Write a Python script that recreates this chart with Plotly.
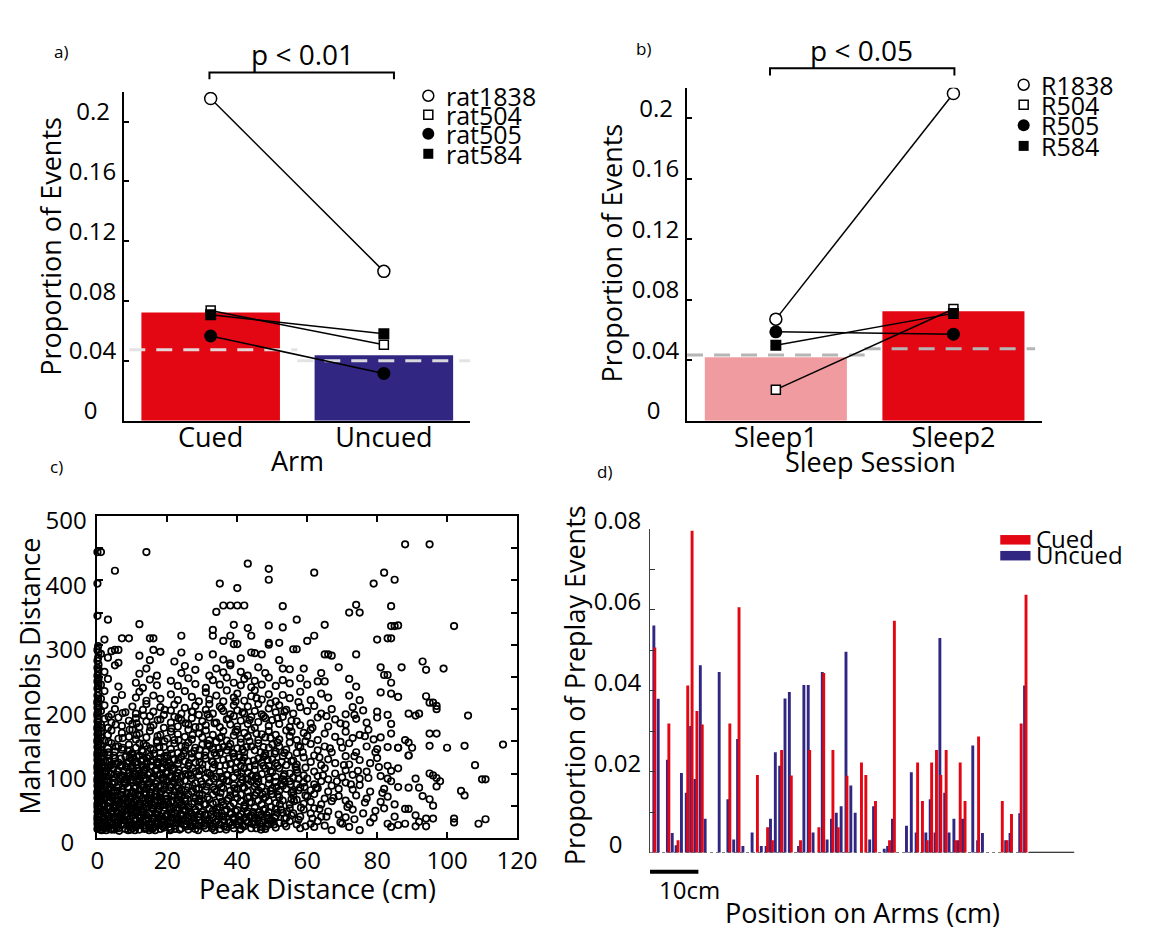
import plotly.graph_objects as go

W, H = 1152, 948
FONT = "Open Sans"
RED = "#E30613"
NAVY = "#312783"
PINK = "#F09BA0"
NB = "\u00a0"


def fx(px):
    return px / W


def fy(py):
    return 1 - py / H


# ---------------- a) proportion of events per arm ----------------
arm_labels = ["Cued", "Uncued"]
arm_mean = [0.0724, 0.0438]
arm_chance = [0.0476, 0.0402]
rat1838_arm = [0.2154, 0.0999]
rat504_arm = [0.0737, 0.0508]
rat505_arm = [0.0567, 0.0317]
rat584_arm = [0.0709, 0.0582]

# ---------------- b) proportion of events per sleep session ----------------
sleep_labels = ["Sleep1", "Sleep2"]
sleep_mean = [0.0420, 0.0724]
sleep_chance = [0.0435, 0.0477]
r1838_sleep = [0.0672, 0.2163]
r504_sleep = [0.0206, 0.0739]
r505_sleep = [0.0588, 0.0573]
r584_sleep = [0.0500, 0.0710]

prop_ticks = [0, 0.04, 0.08, 0.12, 0.16, 0.2]
prop_ticktext = ["0" + NB * 3, "0.04", "0.08", "0.12", "0.16", "0.2" + NB]

# ---------------- c) peak distance vs Mahalanobis distance ----------------
scatter_core = [
    (0,14),(0,22),(0,28),(1,18),(1,25),(2,15),(2,21),(3,27),(3,17),(4,23),(4,13),(5,19),(5,28),(6,15),(6,24),(7,20),(8,14),(8,27),(9,18),(9,24),
    (10,15),(10,22),(11,28),(11,17),(12,13),(12,24),(13,19),(14,26),(14,15),(15,21),(16,17),(16,28),(17,23),(18,14),(18,20),(19,26),(19,16),(20,22),
    (21,14),(21,27),(22,19),(23,24),(24,15),(24,29),(25,20),(26,13),(26,25),(27,18),(28,23),(28,14),(29,27),(29,19),
    (31,22),(31,15),(32,28),(33,18),(34,25),(35,14),(35,21),(36,28),(37,17),(38,24),(39,15),(39,28),
    (40,20),(41,14),(41,26),(42,18),(43,24),(44,15),(45,21),(46,28),(47,17),(47,24),(48,14),(49,21),
    (50,27),(51,16),(52,23),(54,18),(55,26),(57,21),(58,15),(61,22),(62,17),(63,26),(65,19),(67,12),
    (70,22),(72,17),(75,12),(78,24),(83,22),(84,17),(86,20),(88,22),
    (0,33),(0,41),(0,48),(1,37),(1,45),(2,31),(2,43),(3,36),(3,49),(4,40),(5,33),(5,46),(6,38),(7,31),(7,44),(8,36),(9,42),(9,49),
    (10,34),(10,45),(11,39),(12,32),(12,47),(13,41),(14,35),(14,48),(15,38),(16,31),(16,44),(17,37),(18,49),(18,33),(19,42),(20,36),
    (21,44),(21,32),(22,39),(23,47),(24,34),(25,42),(26,31),(26,48),(27,37),(28,44),(29,33),(29,49),(30,40),
    (31,35),(32,46),(33,31),(33,42),(34,38),(35,48),(36,33),(37,44),(38,37),(38,49),(39,32),(40,43),
    (41,37),(42,46),(42,31),(43,41),(44,35),(45,47),(45,32),(46,40),(47,36),(48,45),(49,31),(49,40),
    (51,34),(51,45),(53,39),(54,31),(55,46),(56,38),(58,33),(59,44),(61,38),(62,46),(64,33),(66,41),(69,36),
    (71,32),(73,44),(76,38),(79,31),(82,46),(85,33),
    (0,53),(0,62),(0,69),(1,57),(1,66),(2,51),(2,60),(3,55),(3,68),(4,62),(5,52),(5,65),(6,58),(7,53),(7,67),(8,61),(9,56),
    (10,63),(10,52),(11,58),(12,66),(12,54),(13,61),(14,55),(14,68),(15,59),(16,51),(17,64),(18,57),(18,69),(19,52),(20,61),
    (21,55),(22,66),(23,59),(24,52),(24,64),(25,57),(26,68),(27,53),(28,61),(29,56),(30,67),
    (31,52),(32,60),(33,67),(34,55),(35,63),(36,51),(37,58),(38,66),(39,54),(40,62),(33,53),
    (41,57),(41,67),(42,51),(43,62),(44,55),(45,66),(46,58),(47,52),(48,63),(49,57),(50,68),
    (51,54),(52,63),(53,58),(55,52),(56,66),(57,59),(59,53),(60,64),(61,56),(62,68),(64,52),(65,61),(67,57),(69,65),
    (71,58),(72,52),(74,66),(77,61),(81,56),(83,64),(85,52),
    (0,72),(0,81),(0,88),(1,76),(1,85),(2,71),(2,80),(3,74),(3,88),(4,78),(5,72),(5,86),(6,81),(7,75),(8,84),(9,78),
    (10,72),(10,86),(11,79),(12,74),(12,89),(13,82),(14,76),(15,85),(15,71),(16,79),(17,88),(17,73),(18,81),(19,75),(20,87),
    (21,78),(22,72),(22,86),(23,81),(24,75),(25,89),(26,79),(27,72),(28,85),(29,77),(30,83),
    (31,74),(32,86),(33,79),(34,72),(35,84),(36,77),(37,89),(38,73),(39,82),(40,76),
    (41,85),(42,78),(43,72),(44,88),(45,80),(46,74),(46,87),(47,79),(48,72),(49,84),(50,77),
    (51,87),(52,73),(53,81),(54,76),(55,88),(56,72),(57,83),(58,78),(59,86),
    (61,74),(62,83),(63,77),(64,88),(66,72),(67,81),(69,76),(71,86),(73,75),(75,82),(78,72),(82,76),(84,88),(86,79),
    (0,92),(0,101),(0,108),(1,96),(1,105),(2,91),(2,100),(3,95),(3,109),(4,99),(5,93),(6,104),(7,97),(8,91),(9,102),
    (10,95),(10,107),(11,99),(12,92),(12,104),(13,97),(14,109),(14,91),(15,101),(16,95),(17,106),(18,98),(19,92),(20,103),
    (21,96),(22,108),(23,91),(23,101),(24,95),(25,105),(26,98),(27,92),(28,103),(29,97),
    (30,107),(31,93),(32,100),(33,108),(34,95),(35,102),(36,91),(37,98),(38,106),(39,94),
    (40,101),(41,95),(42,108),(43,91),(43,102),(44,96),(45,106),(46,92),(47,99),(48,108),(49,94),
    (50,102),(51,95),(52,108),(53,91),(55,100),(56,94),(57,106),(59,97),
    (60,92),(62,103),(63,96),(65,108),(66,91),(68,100),(70,94),(71,105),(73,98),(75,92),(77,103),(81,96),(83,92),(84,104),
    (0,112),(0,121),(0,128),(1,116),(1,125),(2,111),(3,119),(3,129),(4,114),(5,123),(6,117),(7,112),(8,126),(9,119),
    (10,113),(10,124),(11,118),(12,128),(13,112),(13,122),(14,116),(15,127),(16,120),(17,113),(18,124),(19,117),(20,128),
    (21,112),(22,121),(23,115),(24,126),(25,119),(26,112),(27,124),(28,117),(29,128),
    (30,114),(31,123),(33,118),(34,128),(35,112),(36,121),(38,115),(39,126),
    (40,118),(41,112),(42,125),(43,119),(45,113),(46,123),(47,117),(48,128),(49,112),
    (50,122),(51,116),(53,127),(54,113),(56,120),(57,114),(59,125),
    (61,118),(62,128),(64,113),(66,122),(68,116),(71,127),(72,114),(75,121),(78,116),(80,124),(83,112),(86,108),
]

scatter_core_fill = [
    (0.5,19),(1.5,30),(2.5,12),(3.5,22),(4.5,31),(5.5,16),(6.5,29),(7.5,22),(8.5,33),(9.5,13),(10.5,27),(11.5,20),
    (12.5,34),(13.5,14),(14.5,31),(15.5,25),(16.5,12),(17.5,30),(18.5,24),(19.5,33),(20.5,17),(21.5,31),(22.5,23),(23.5,13),(24.5,35),
    (0.5,44),(1.5,52),(2.5,38),(3.5,58),(4.5,47),(5.5,40),(6.5,55),(7.5,49),(8.5,57),(9.5,45),(10.5,55),(11.5,48),
    (12.5,40),(13.5,52),(14.5,59),(15.5,46),(16.5,56),(17.5,44),(18.5,51),(19.5,60),(20.5,48),(21.5,58),(22.5,43),(23.5,54),
    (0.5,64),(1.5,73),(2.5,82),(3.5,65),(4.5,71),(5.5,79),(6.5,66),(7.5,86),(8.5,70),(9.5,90),(10.5,77),(11.5,68),
    (12.5,83),(13.5,71),(14.5,62),(15.5,91),(16.5,68),(17.5,80),(18.5,93),(19.5,66),(20.5,74),(21.5,88),(22.5,96),(23.5,69),
    (0.5,97),(1.5,111),(2.5,104),(3.5,118),(4.5,107),(5.5,98),(6.5,112),(7.5,104),(8.5,116),(9.5,109),(10.5,100),
    (11.5,114),(12.5,119),(13.5,106),(14.5,98),(15.5,112),(16.5,105),(17.5,116),(18.5,110),(19.5,101),(20.5,116),(21.5,106),
    (25.5,18),(27.5,30),(30.5,19),(32.5,36),(34.5,28),(36.5,41),(38.5,20),(40.5,33),(42.5,27),(44.5,40),(46.5,22),
    (48.5,35),(50.5,21),(52.5,44),(53.5,30),(43.5,55),(37.5,61),(30.5,52),(27.5,63),(45.5,70),(41.5,90),(35.5,79),
    (32.5,97),(47.5,112),(52.5,84),(55.5,70),
]

scatter_axis_column = [
    (0.3,17),(0.3,26),(0.2,37),(0.3,46),(0.2,57),(0.3,66),(0.2,77),(0.3,85),(0.2,96),(0.3,104),(0.2,116),(0.3,124),
    (0.2,136),(0.3,144),(0.2,156),(0.3,164),(0.2,176),(0.3,185),(0.2,196),(0.3,205),(0.2,216),(0.3,226),(0.2,237),
    (0.3,248),(0.2,258),(0.3,269),(0.2,280),(0.3,288),(0.2,298),(0.3,240),(0.3,262),
]

scatter_dense_extra = [
    (1.2,12),(3.2,33),(5.2,24),(7.2,39),(9.2,30),(11.2,43),(13.2,36),(15.2,16),(17.2,41),(19.2,21),(21.2,38),(23.2,28),(25.2,44),(27.2,24),(29.2,37),
    (1.2,61),(3.2,77),(5.2,58),(7.2,71),(9.2,64),(11.2,87),(13.2,78),(15.2,66),(17.2,57),(19.2,82),(21.2,66),(23.2,77),(25.2,62),(27.2,81),(29.2,66),
    (1.2,92),(3.2,102),(5.2,115),(7.2,93),(9.2,124),(11.2,108),(13.2,92),(15.2,119),(17.2,97),(19.2,124),(21.2,93),(23.2,121),(25.2,99),(27.2,108),(29.2,117),
    (1.2,132),(3.2,149),(5.2,142),(7.2,155),(9.2,136),(11.2,160),(13.2,146),(15.2,139),(17.2,158),(19.2,150),(21.2,131),(23.2,152),(25.2,143),(27.2,160),(29.2,137),
    (1.2,171),(3.2,188),(5.2,176),(7.2,194),(9.2,168),(11.2,178),(13.2,190),(15.2,172),(17.2,183),(19.2,199),(21.2,170),(23.2,186),(25.2,178),(27.2,196),(29.2,172),
    (31.5,27),(33.5,12),(35.5,34),(37.5,24),(39.5,41),(41.5,19),(43.5,33),(45.5,15),(47.5,43),(49.5,27),(51.5,39),(53.5,22),(55.5,35),(57.5,28),(59.5,18),
    (31.5,63),(33.5,75),(35.5,56),(37.5,88),(39.5,69),(41.5,78),(43.5,64),(45.5,84),(47.5,61),(49.5,73),(51.5,67),(53.5,88),(55.5,60),(57.5,74),(59.5,66),
    (31.5,101),(33.5,114),(35.5,95),(37.5,123),(39.5,107),(41.5,120),(43.5,110),(45.5,96),(47.5,126),(49.5,104),(51.5,112),(53.5,99),(55.5,119),(57.5,92),(59.5,109),
    (31.5,146),(33.5,132),(35.5,157),(37.5,142),(39.5,165),(41.5,137),(43.5,150),(45.5,162),(47.5,141),(49.5,155),(51.5,148),(53.5,132),(55.5,165),(57.5,143),(59.5,150),
    (31.5,192),(33.5,178),(35.5,201),(37.5,185),(39.5,212),(41.5,195),(43.5,183),(45.5,217),(47.5,189),(49.5,209),(51.5,186),(53.5,196),(55.5,182),(57.5,211),
    (61.5,30),(63.5,45),(65.5,33),(67.5,62),(69.5,24),(71.5,48),(73.5,29),(76.5,55),(79.5,42),(81.5,70),(62.5,78),(64.5,97),
    (68.5,88),(70.5,113),(72.5,83),(74.5,104),(77.5,93),(80.5,110),(63.5,125),(66.5,139),(69.5,149),(73.5,127),(76.5,158),
    (79.5,133),(61.5,171),(65.5,189),(69.5,178),(73.5,191),(77.5,168),
    (0.8,13),(2.8,19),(4.8,13),(6.8,21),(8.8,12),(10.8,19),(12.8,27),(14.8,12),(16.8,22),(18.8,30),(20.8,12),(22.8,30),
    (24.8,21),(26.8,33),(28.8,12),(30.8,29),(32.8,15),(34.8,33),(36.8,13),(38.8,31),(40.8,13),(42.8,38),(44.8,26),(46.8,13),(48.8,29),
]

scatter_dense_more = [
    (0.7,16),(2.2,26),(3.7,14),(5.7,33),(6.2,11),(7.7,27),(9.7,19),(1.7,40),(3.7,46),(5.2,51),(6.7,36),(8.2,45),(9.7,56),
    (0.7,58),(2.2,68),(4.2,64),(5.7,73),(7.2,60),(8.7,78),(9.7,69),(1.2,82),(2.7,89),(4.2,84),(6.2,93),(7.7,88),(9.2,96),
    (0.7,106),(2.2,118),(3.7,112),(5.7,103),(6.7,123),(8.2,110),(9.7,130),(1.7,127),(3.2,133),(4.7,128),(7.2,140),(8.7,135),
    (10.7,12),(12.2,21),(13.7,29),(15.7,14),(17.2,26),(18.7,18),(19.7,35),(10.2,40),(11.7,51),(13.2,45),(14.7,38),(16.2,50),
    (17.7,63),(19.2,47),(10.7,67),(12.2,74),(13.7,58),(15.2,79),(16.7,84),(18.2,72),(19.7,90),(10.2,90),(11.7,97),(13.2,104),
    (15.7,93),(17.2,118),(18.7,107),(19.7,113),(11.2,126),(12.7,136),(14.2,124),(16.2,131),(17.7,141),(19.2,127),
    (20.7,25),(22.2,14),(23.7,36),(25.2,27),(26.7,18),(28.2,40),(29.7,24),(20.2,55),(21.7,46),(23.2,65),(24.7,50),(26.2,41),
    (27.7,56),(29.2,61),(20.7,81),(22.2,92),(23.7,86),(25.2,74),(26.7,97),(28.2,76),(29.7,88),(20.2,110),(21.7,122),
    (23.2,106),(24.7,131),(26.2,116),(27.7,135),(29.2,104),
    (30.7,36),(32.2,22),(34.2,44),(36.2,18),(38.2,39),(40.2,26),(42.2,49),(44.2,22),(46.2,35),(48.2,18),(49.7,48),
    (31.2,80),(33.2,92),(35.2,70),(37.2,97),(39.2,77),(41.2,101),(43.2,83),(45.2,93),(47.2,68),(49.2,91),(30.7,128),
    (32.7,119),(34.7,139),(36.7,113),(38.7,132),(40.7,125),(42.7,141),(44.7,120),(46.7,133),(48.7,121),
    (50.7,31),(52.2,52),(54.2,41),(56.2,57),(58.2,47),(51.2,79),(53.2,96),(55.2,83),(57.2,101),(59.2,79),(50.7,131),
    (52.7,118),(54.7,128),(56.7,110),(58.7,133),
]

scatter_mid = [
    (0,132),(0,141),(0,149),(1,136),(1,145),(2,131),(3,139),(4,147),(5,134),(6,142),(7,137),(9,145),
    (10,131),(11,140),(12,147),(13,134),(14,143),(16,137),(17,148),(18,132),(19,141),
    (21,138),(22,147),(23,132),(24,142),(25,136),(26,148),(27,131),(28,140),(30,145),
    (31,134),(32,143),(33,138),(34,149),(35,132),(36,141),(37,136),(38,146),(39,131),
    (40,139),(41,148),(42,133),(44,142),(45,136),(46,147),(48,131),(49,140),
    (50,145),(51,134),(52,142),(54,137),(55,148),(57,132),(58,141),(61,146),(63,136),(65,142),(67,133),
    (70,140),(72,147),(74,133),(77,142),(80,138),(83,141),(86,140),(89,128),
    (0,152),(0,161),(0,169),(1,156),(1,165),(2,151),(3,160),(4,167),(6,154),(7,163),(9,157),
    (10,168),(11,153),(12,162),(14,156),(15,166),(17,151),(18,160),(20,154),
    (21,165),(22,152),(23,161),(25,157),(26,168),(27,153),(29,162),(30,156),
    (31,167),(32,152),(33,160),(35,155),(36,166),(37,151),(39,159),(40,168),
    (41,154),(42,163),(43,157),(44,168),(46,152),(47,161),(48,156),(49,166),
    (51,160),(52,153),(54,167),(55,158),(57,152),(59,163),(60,158),(61,168),(63,152),(65,162),(68,157),
    (71,165),(73,155),(75,160),(79,153),(81,156),(84,162),(88,152),
    (0,172),(0,181),(0,189),(1,176),(2,185),(3,171),(4,179),(6,187),(7,174),(9,182),
    (10,177),(11,186),(12,172),(14,181),(15,189),(16,175),(18,184),(19,171),
    (21,179),(22,188),(23,173),(24,183),(26,176),(27,186),(28,172),(30,181),
    (31,175),(32,187),(34,179),(35,172),(37,184),(38,176),(39,189),
    (40,173),(41,182),(43,177),(44,188),(45,171),(46,180),(48,186),(49,174),
    (50,183),(52,177),(53,188),(55,172),(57,181),(58,175),(61,178),(63,187),(66,173),(68,184),
    (71,176),(74,185),(77,179),(80,187),(84,177),
    (0,193),(0,202),(0,209),(1,197),(2,206),(4,192),(5,200),(8,195),
    (10,204),(11,193),(13,199),(14,208),(16,196),(18,203),(19,191),
    (21,198),(22,207),(24,193),(25,202),(27,196),(28,205),(29,191),
    (31,199),(32,208),(33,193),(35,204),(36,197),(38,192),(39,206),
    (40,198),(42,193),(43,204),(45,197),(46,208),(47,192),(49,201),
    (51,195),(52,206),(54,199),(56,193),(58,203),(60,197),(62,205),(64,193),(67,200),
    (71,192),(73,203),(76,198),(80,196),(83,191),
    (0,212),(0,221),(1,216),(2,228),(5,214),(7,222),(11,218),(12,227),(14,213),(16,221),(18,216),
    (21,223),(23,214),(25,228),(27,219),(29,212),(31,226),(32,215),(34,221),(36,212),(37,229),(39,218),
    (40,224),(42,213),(44,220),(45,229),(47,215),(49,223),(51,212),(53,222),(55,217),(58,227),
    (61,214),(64,224),(66,218),(72,221),(75,214),(81,226),(84,224),(86,219),
    (0,232),(0,243),(1,238),(3,247),(6,235),(11,241),(13,233),(15,246),(17,237),
    (21,244),(23,236),(26,248),(28,239),(31,233),(33,245),(35,238),(37,249),(39,241),
    (41,237),(42,247),(44,234),(45,244),(47,238),(49,249),(51,236),(53,245),(55,240),(58,248),
    (60,238),(63,243),(65,243),(72,247),(74,235),(83,253),(84,241),
    (0,252),(0,264),(2,258),(5,268),(12,255),(14,263),(17,252),(24,256),(25,267),(28,261),
    (32,252),(34,263),(36,257),(38,268),(41,258),(43,252),(46,265),(48,256),(53,263),(55,262),(59,263),
    (64,256),(69,265),(81,265),(87,265),(82,253),
    (0,275),(1,286),(3,280),(6,272),(12,283),(15,276),(18,289),(22,274),(24,288),(29,281),
    (33,285),(36,277),(38,271),(41,279),(44,288),(45,287),(47,285),(52,276),(56,293),(57,293),
    (65,285),(66,285),(67,283),(74,285),
]

scatter_upper = [
    (0,292),(4,290),(5,292),(6,292),(2,308),(7,310),(9,310),(15,310),(16,310),(16,292),(0,345),(3,339),(12,332),
    (0,395),(5,415),(0,444),(1,444),(14,444),(24,314),(33,323),(33,314),(36,306),(38,314),(39,301),(40,301),
    (44,314),(49,303),(49,300),(52,303),(60,306),(62,314),(80,308),(83,310),(84,310),(34,351),(36,361),(38,361),
    (40,361),(42,361),(53,360),(57,339),(72,350),(75,350),(74,362),(84,360),(84,329),(85,329),(86,330),(102,329),
    (43,326),(49,330),(53,327),(65,331),(39,331),(35,395),(40,388),(43,426),(49,418),(49,401),(62,412),(79,395),
    (82,412),(85,401),(88,456),(95,456),
]

scatter_far = [
    (93,274),(94,261),(99,263),(94,220),(95,210),(96,210),(97,205),(97,200),(89,193),(91,190),(92,193),(106,190),
    (105,143),(100,140),(116,145),(108,113),(95,162),(97,162),(95,143),(110,91),(111,91),(104,73),(105,66),(102,30),
    (102,24),(109,22),(111,29),(95,100),(96,97),(97,93),(98,88),(97,80),(94,30),(96,30),(96,50),(95,60),(91,92),
    (92,78),(93,65),(89,78),(89,45),(91,18),(92,25),(94,18),(86,140),(89,148),(90,140),(89,128),(88,45),(91,35),
]

# ---------------- d) preplay events along the arms ----------------
uncued_pos = [0.8, 1.7, 3.6, 4.6, 5.4, 6.5, 7.5, 8.4, 9.3, 10.4, 11.4, 14.3, 16.1, 17.3, 18.1,
              19.2, 21.1, 23.0, 24.0, 24.9, 25.9, 26.8, 27.9, 28.8, 30.7, 31.8, 32.7, 33.7, 35.6, 36.6,
              37.5, 38.5, 39.5, 40.5, 41.5, 42.4, 45.4, 46.2, 48.4, 49.1, 50.1, 53.0, 54.0, 55.0, 57.0,
              57.9, 58.9, 59.9, 60.9, 61.8, 62.8, 63.7, 64.6, 66.7, 67.7, 68.7, 73.5, 74.4, 76.4, 77.4]
uncued_prop = [0.0561, 0.0380, 0.0230, 0.0049, 0.0019, 0.0197, 0.0148, 0.0313, 0.0182, 0.0463,
               0.0084, 0.0446, 0.0132, 0.0033, 0.0281, 0.0017, 0.0050, 0.0017, 0.0017, 0.0084,
               0.0248, 0.0215, 0.0381, 0.0397, 0.0017, 0.0414, 0.0414, 0.0050, 0.0446, 0.0033,
               0.0084, 0.0099, 0.0115, 0.0496, 0.0166, 0.0099, 0.0033, 0.0115, 0.0010, 0.0017,
               0.0084, 0.0067, 0.0199, 0.0050, 0.0050, 0.0132, 0.0050, 0.0530, 0.0148, 0.0050,
               0.0084, 0.0031, 0.0084, 0.0265, 0.0031, 0.0049, 0.0031, 0.0049, 0.0098, 0.0413]
cued_pos = [1.0, 3.9, 5.8, 7.8, 8.7, 9.7, 10.8, 16.5, 18.4, 22.2, 24.3, 25.3, 27.2, 29.2, 31.1,
            33.0, 34.9, 35.9, 37.8, 38.9, 40.7, 43.7, 44.6, 46.6, 49.5, 50.5, 55.3, 56.3, 57.3, 58.2,
            59.2, 60.1, 61.2, 63.2, 64.1, 65.1, 67.9, 72.8, 73.8, 74.7, 76.7, 77.7]
cued_prop = [0.0507, 0.0319, 0.0031, 0.0413, 0.0795, 0.0350, 0.0317, 0.0319, 0.0606, 0.0192,
             0.0063, 0.0031, 0.0254, 0.0191, 0.0031, 0.0254, 0.0063, 0.0444, 0.0254, 0.0063,
             0.0190, 0.0223, 0.0192, 0.0128, 0.0031, 0.0573, 0.0223, 0.0128, 0.0031, 0.0223,
             0.0254, 0.0192, 0.0254, 0.0031, 0.0223, 0.0128, 0.0287, 0.0128, 0.0031, 0.0096,
             0.0319, 0.0637]
arm_length_cm = 87.7
scale_bar_cm = 10

# ---------------- figure ----------------
fig = go.Figure()

MARKERS = {
    "open_circle": dict(symbol="circle", size=12, color="white", line=dict(color="black", width=1.5)),
    "open_square": dict(symbol="square", size=9, color="white", line=dict(color="black", width=1.5)),
    "filled_circle": dict(symbol="circle", size=13, color="black", line=dict(color="black", width=0)),
    "filled_square": dict(symbol="square", size=11, color="black", line=dict(color="black", width=0)),
}
marker_order = ["open_circle", "open_square", "filled_circle", "filled_square"]


def paired_panel(xa, ya, means, colors, chance, chance_spans, chance_color, series):
    fig.add_trace(go.Bar(x=[0, 1], y=means, width=0.8, marker=dict(color=colors, line=dict(width=0)),
                         xaxis=xa, yaxis=ya))
    for span, level in zip(chance_spans, chance):
        fig.add_trace(go.Scatter(x=list(span), y=[level, level], mode="lines",
                                 line=dict(color=chance_color, width=3, dash="16px,11px"),
                                 xaxis=xa, yaxis=ya, hoverinfo="skip"))
    for vals, key in zip(series, marker_order):
        fig.add_trace(go.Scatter(x=[0, 1], y=vals, mode="lines+markers",
                                 line=dict(color="black", width=1.5), marker=MARKERS[key],
                                 xaxis=xa, yaxis=ya))


paired_panel("x", "y", arm_mean, [RED, NAVY], arm_chance, [(-0.47, 0.5), (0.5, 1.5)],
             "rgba(225,225,225,0.95)", [rat1838_arm, rat504_arm, rat505_arm, rat584_arm])
paired_panel("x2", "y2", sleep_mean, [PINK, RED], sleep_chance, [(-0.5, 0.5), (0.5, 1.46)],
             "#B5B5B5", [r1838_sleep, r504_sleep, r505_sleep, r584_sleep])

# c) scatter (circles on the y axis are drawn whole, not clipped)
for group in (scatter_core, scatter_core_fill, scatter_axis_column, scatter_dense_extra,
              scatter_dense_more, scatter_mid, scatter_upper, scatter_far):
    fig.add_trace(go.Scatter(x=[p[0] for p in group], y=[p[1] for p in group], mode="markers",
                             marker=dict(symbol="circle-open", size=6.5, color="black", line=dict(width=1.7)),
                             cliponaxis=False, xaxis="x3", yaxis="y3"))

# d) bars
fig.add_trace(go.Bar(x=uncued_pos, y=uncued_prop, width=0.6, marker=dict(color=NAVY, line=dict(width=0)),
                     xaxis="x4", yaxis="y4"))
fig.add_trace(go.Bar(x=cued_pos, y=cued_prop, width=0.6, marker=dict(color=RED, line=dict(width=0)),
                     xaxis="x4", yaxis="y4"))

# legend glyphs for a) and b) on a full-page pixel overlay
legend_a_rows = [73.3, 93.3, 113.3, 134.3]
legend_b_rows = [61.7, 82.7, 104.3, 126.0]
legend_sizes = {"open_circle": 11, "open_square": 9, "filled_circle": 12, "filled_square": 10}
for rows, mx in ((legend_a_rows, 431.8), (legend_b_rows, 1042.0)):
    for row, key in zip(rows, marker_order):
        m = dict(MARKERS[key])
        m["size"] = legend_sizes[key]
        fig.add_trace(go.Scatter(x=[mx], y=[row], mode="markers", marker=m, xaxis="x5", yaxis="y5",
                                 cliponaxis=False))

tick_font = dict(family=FONT, size=24, color="black")
cat_font = dict(family=FONT, size=27, color="black")
common = dict(showgrid=False, zeroline=False, color="black")

fig.update_layout(
    width=W, height=H, margin=dict(l=0, r=0, t=0, b=0),
    paper_bgcolor="white", plot_bgcolor="rgba(0,0,0,0)",
    showlegend=False, barmode="overlay", font=dict(family=FONT, color="black"),
    xaxis=dict(domain=[fx(120), fx(475)], range=[-0.5, 1.5], tickvals=[0, 1], ticktext=arm_labels,
               ticks="", showline=True, linecolor="black", linewidth=2, tickfont=cat_font,
               ticklabelstandoff=-8, anchor="y", **common),
    yaxis=dict(domain=[fy(415), fy(69)], range=[0, 0.22], tickvals=prop_ticks, ticktext=prop_ticktext,
               ticks="inside", ticklen=5, tickwidth=1.5, tickcolor="black", showline=True,
               linecolor="black", linewidth=2, tickfont=tick_font, ticklabelshift=-10,
               ticklabelstandoff=1, anchor="x", **common),
    xaxis2=dict(domain=[fx(697), fx(1061)], range=[-0.5, 1.5], tickvals=[0, 1], ticktext=sleep_labels,
                ticks="", showline=True, linecolor="black", linewidth=2, tickfont=cat_font,
                ticklabelstandoff=-8, anchor="y2", **common),
    yaxis2=dict(domain=[fy(415), fy(65)], range=[0, 0.22], tickvals=prop_ticks, ticktext=prop_ticktext,
                ticks="inside", ticklen=5, tickwidth=1.5, tickcolor="black", showline=True,
                linecolor="black", linewidth=2, tickfont=tick_font, ticklabelshift=-10,
                ticklabelstandoff=1, anchor="x2", **common),
    xaxis3=dict(domain=[fx(92.7), fx(522.7)], range=[0, 120], tickvals=list(range(0, 121, 20)),
                ticks="inside", ticklen=6, tickwidth=1.5, tickcolor="black", mirror="ticks",
                showline=True, linecolor="black", linewidth=2, tickfont=tick_font, anchor="y3", **common),
    yaxis3=dict(domain=[fy(853.3), fy(515)], range=[0, 500], tickvals=list(range(0, 501, 50)),
                ticktext=[("0" + NB * 2) if v == 0 else (str(v) if v % 100 == 0 else "")
                          for v in range(0, 501, 50)],
                ticks="inside", ticklen=6, tickwidth=1.5, tickcolor="black", mirror="ticks",
                showline=True, linecolor="black", linewidth=2, tickfont=tick_font,
                ticklabelshift=5, ticklabelstandoff=4, anchor="x3", **common),
    xaxis4=dict(domain=[fx(659), fx(1094)], range=[0, arm_length_cm], showticklabels=False, ticks="",
                showline=False, anchor="y4", **common),
    yaxis4=dict(domain=[fy(869), fy(528.3)], range=[0, 0.08], tickvals=[i / 100 for i in range(9)],
                ticktext=[("0" + NB * 3) if i == 0 else (f"0.0{i}" if i % 2 == 0 else "") for i in range(9)],
                ticks="inside", ticklen=5, tickwidth=1, tickcolor="#333", showline=True,
                linecolor="#444", linewidth=1, tickfont=tick_font, ticklabelshift=-8,
                ticklabelstandoff=3, anchor="x4", **common),
    xaxis5=dict(domain=[0, 1], range=[0, W], visible=False, anchor="y5"),
    yaxis5=dict(domain=[0, 1], range=[H, 0], visible=False, anchor="x5"),
)

shapes = []
# significance brackets
for x0, x1, ytop, ybot in ((207.5, 396.6, 49, 56), (782, 971, 44.3, 52)):
    shapes.append(dict(type="path", xref="paper", yref="paper",
                       path=f"M {fx(x0)} {fy(ybot)} L {fx(x0)} {fy(ytop)} L {fx(x1)} {fy(ytop)} L {fx(x1)} {fy(ybot)}",
                       line=dict(color="black", width=2)))
# d) baseline and scale bar
last_bin = max(max(uncued_pos), max(cued_pos)) + 0.6
shapes.append(dict(type="line", xref="x4", yref="y4", x0=0, x1=last_bin, y0=0, y1=0,
                   line=dict(color="#555", width=1.5, dash="dot")))
shapes.append(dict(type="line", xref="x4", yref="y4", x0=last_bin, x1=arm_length_cm, y0=0, y1=0,
                   line=dict(color="black", width=2)))
shapes.append(dict(type="line", xref="x4", yref="paper", x0=0, x1=scale_bar_cm, y0=fy(889), y1=fy(889),
                   line=dict(color="black", width=4)))
# d) legend swatches
for color, (y0, y1) in ((RED, (535, 545)), (NAVY, (551.7, 561.7))):
    shapes.append(dict(type="rect", xref="paper", yref="paper", x0=fx(1018), x1=fx(1049),
                       y0=fy(y1), y1=fy(y0), fillcolor=color, line=dict(width=0)))
fig.update_layout(shapes=shapes)


def text(s, x, y, size, xanchor="center", angle=0):
    return dict(text=s, x=fx(x), y=fy(y), xref="paper", yref="paper", showarrow=False,
                xanchor=xanchor, yanchor="middle", textangle=angle,
                font=dict(family=FONT, size=size, color="black"))


ann = [
    text("a)", 55.6, 27, 17), text("b)", 652, 24, 17), text("c)", 51, 463, 17), text("d)", 612, 468, 17),
    text("p &lt; 0.01", 303, 29, 28), text("p &lt; 0.05", 876, 25, 28),
    text("Proportion of Events", 45, 231, 27, angle=-90), text("Arm", 298, 457, 27),
    text("Proportion of Events", 620, 238, 27, angle=-90), text("Sleep Session", 885, 458, 27),
    text("Mahalanobis Distance", 23.5, 683, 27, angle=-90), text("Peak Distance (cm)", 318.6, 907, 27),
    text("Proportion of Preplay Events", 581, 693, 27, angle=-90),
    text("Position on Arms (cm)", 877, 932, 27), text("10cm", 700, 908, 24),
    text("Cued", 1053, 539, 24, xanchor="left"), text("Uncued", 1053, 555, 24, xanchor="left"),
]
for rows, tx, names in ((legend_a_rows, 448, ["rat1838", "rat504", "rat505", "rat584"]),
                        (legend_b_rows, 1058, ["R1838", "R504", "R505", "R584"])):
    for row, name in zip(rows, names):
        ann.append(text(name, tx, row, 25, xanchor="left"))
fig.update_layout(annotations=ann)

fig.write_html("out.html")
